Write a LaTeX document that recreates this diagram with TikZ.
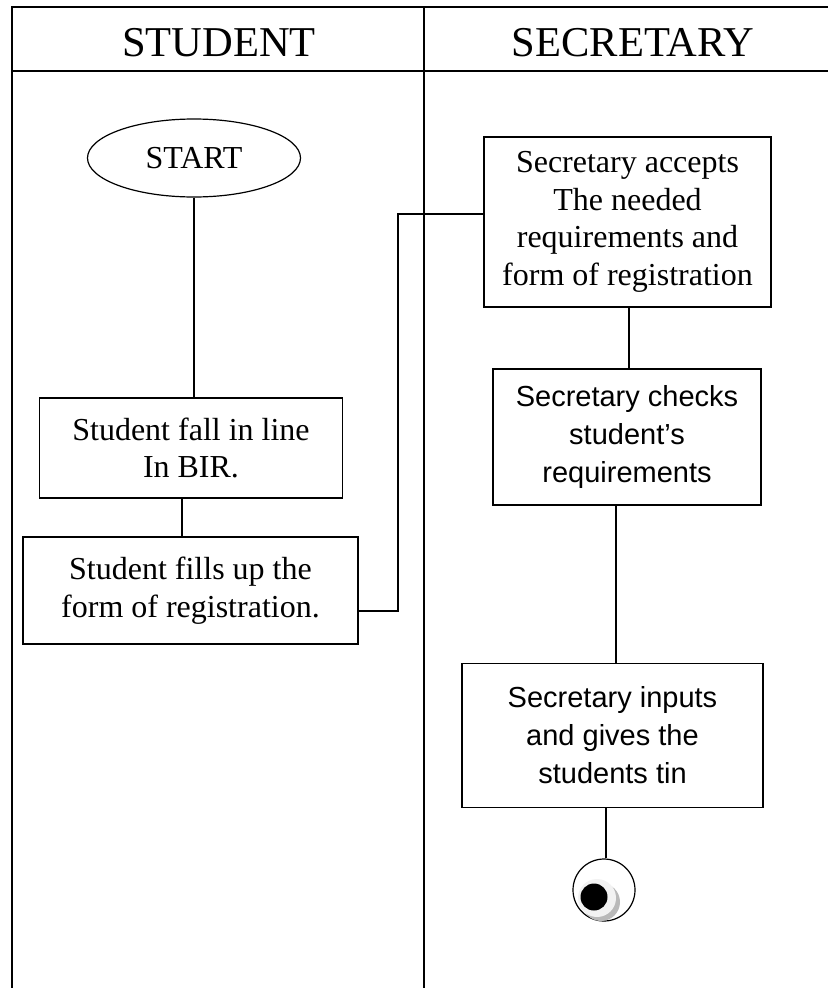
\documentclass[tikz,border=0pt]{standalone}
\usepackage{fontspec}
\setmainfont{Liberation Serif}
\setsansfont{Liberation Sans}
\usetikzlibrary{shapes.geometric}
\begin{document}
\begin{tikzpicture}[x=1pt,y=-1pt,
  frame/.style={line width=1.2pt},
  lane/.style={font=\fontsize{42.5}{46}\selectfont},
  stepbox/.style={draw,line width=1.2pt,rectangle,align=center,inner sep=0pt},
  serifbox/.style={stepbox,font=\fontsize{32}{37.5}\selectfont},
  sansbox/.style={stepbox,font=\sffamily\fontsize{29}{38}\selectfont},
  link/.style={line width=1.2pt}]
\useasboundingbox (0,0) rectangle (828,988);

% swimlane frame
\coordinate (tl) at (12,7);
\coordinate (tr) at (828,7);
\coordinate (bl) at (12,988);
\coordinate (ht) at (424,7);
\coordinate (hb) at (424,988);
\coordinate (hl) at (12,71);
\coordinate (hr) at (828,71);
\draw[frame] (bl) -- (tl) -- (tr);
\draw[frame] (ht) -- (hb);
\draw[line width=2.4pt] (hl) -- (hr);
\node[lane] (lstudent) at (219,43) {STUDENT};
\node[lane] (lsecretary) at (633,43) {SECRETARY};

% student lane
\node[draw,ellipse,line width=1.2pt,minimum width=213pt,minimum height=78pt,inner sep=0pt,
      font=\fontsize{32}{36}\selectfont] (start) at (194,158) {START};
\node[serifbox,minimum width=303pt,minimum height=100pt] (b1) at (191,448)
  {Student fall in line\\In BIR.};
\node[serifbox,minimum width=335pt,minimum height=107pt] (b2) at (190.5,590.5)
  {Student fills up the\\form of registration.};

% secretary lane
\node[serifbox,minimum width=287pt,minimum height=170pt] (b3) at (627.5,222)
  {Secretary accepts\\The needed\\requirements and\\form of registration};
\node[sansbox,minimum width=268pt,minimum height=136pt] (b4) at (627,437)
  {Secretary checks\\student’s\\requirements};
\node[sansbox,minimum width=301pt,minimum height=144pt] (b5) at (612.5,735.5)
  {Secretary inputs\\and gives the\\students tin};

% final state
\node[draw,circle,line width=1.2pt,minimum size=62pt,inner sep=0pt] (end) at (604,890) {};
\fill[gray!55] (601,902) circle (19pt);
\fill[gray!10] (597,898) circle (19pt);
\fill[black] (594,897) circle (13.5pt);

% connectors
\coordinate (x12) at (182,0);
\coordinate (x34) at (629,0);
\coordinate (x45) at (616,0);
\coordinate (x5e) at (606,0);
\coordinate (jog) at (398,0);
\draw[link] (start.south) -- (b1.north -| start.south);
\draw[link] (b1.south -| x12) -- (b2.north -| x12);
\draw[link] (b2.east |- 0,611) -- (jog |- 0,611) -- (jog |- 0,214) -- (b3.west |- 0,214);
\draw[link] (b3.south -| x34) -- (b4.north -| x34);
\draw[link] (b4.south -| x45) -- (b5.north -| x45);
\draw[link] (b5.south -| x5e) -- (end.north -| x5e);
\end{tikzpicture}
\end{document}
